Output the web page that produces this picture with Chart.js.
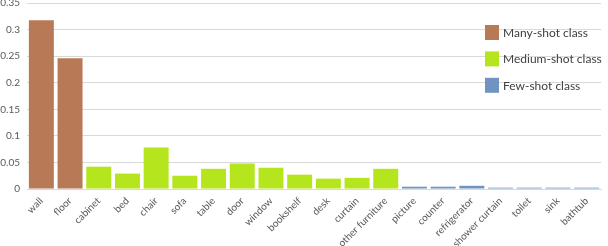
<!DOCTYPE html>
<html>
<head>
<meta charset="utf-8">
<script src="https://cdn.jsdelivr.net/npm/chart.js@4/dist/chart.umd.min.js"></script>
<style>
  html, body { margin: 0; padding: 0; background: #fff; }
  #wrap { position: relative; width: 608px; height: 246px; }
</style>
</head>
<body>
<div id="wrap"><canvas id="classChart"></canvas></div>
<script>
const categories = ["wall", "floor", "cabinet", "bed", "chair", "sofa", "table", "door", "window", "bookshelf",
    "desk", "curtain", "other furniture", "picture", "counter", "refrigerator", "shower curtain", "toilet", "sink", "bathtub"];

const manyShot = [0.3175, 0.246, null, null, null, null, null, null, null, null,
    null, null, null, null, null, null, null, null, null, null];
const mediumShot = [null, null, 0.042, 0.029, 0.078, 0.025, 0.038, 0.048, 0.040, 0.027,
    0.0195, 0.021, 0.038, null, null, null, null, null, null, null];
const fewShot = [null, null, null, null, null, null, null, null, null, null,
    null, null, null, 0.0043, 0.0043, 0.006, 0.0025, 0.0025, 0.0025, 0.0025];

const yTicks = [0, 0.05, 0.1, 0.15, 0.2, 0.25, 0.3, 0.35];

const seriesLabels = ["Many-shot class", "Medium-shot class", "Few-shot class"];
const seriesColors = ["#B87A56", "#B5E61D", "#6F94C2"];

// legend drawn over the plot, like the original
const overlayLegend = {
    id: "overlayLegend",
    afterDraw(chart) {
        const c = chart.ctx;
        c.save();
        c.font = "12px Lato";
        c.textBaseline = "middle";
        c.textAlign = "left";
        chart.data.datasets.forEach((ds, i) => {
            const y = 25 + i * 26.4;
            c.fillStyle = ds.backgroundColor;
            c.fillRect(485, y, 14, 15);
            c.fillStyle = "#404040";
            c.fillText(ds.label, 503, y + 8);
        });
        c.restore();
    }
};

const ctx = document.getElementById("classChart").getContext("2d");
new Chart(ctx, {
    type: "bar",
    data: {
        labels: categories,
        datasets: [manyShot, mediumShot, fewShot].map((d, i) => ({
            label: seriesLabels[i],
            data: d,
            backgroundColor: seriesColors[i],
            borderWidth: 0,
            grouped: false,
            categoryPercentage: 1,
            barPercentage: 0.87
        }))
    },
    options: {
        responsive: true,
        maintainAspectRatio: false,
        animation: false,
        layout: { padding: { top: 3, right: 7, left: 0, bottom: 0 } },
        plugins: {
            legend: { display: false },
            tooltip: { enabled: false }
        },
        scales: {
            x: {
                grid: { display: false, drawTicks: false },
                border: { color: "#d9d9d9", width: 1 },
                ticks: {
                    color: "#595959",
                    font: { family: "Lato", size: 10 },
                    minRotation: 45,
                    maxRotation: 45,
                    autoSkip: false,
                    padding: 6
                },
                afterFit(scale) {
                    scale.height = 57;
                    scale.paddingLeft = 0;
                    scale.paddingRight = 0;
                }
            },
            y: {
                min: 0,
                max: 0.35,
                afterBuildTicks(scale) {
                    scale.ticks = yTicks.map(v => ({ value: v }));
                },
                grid: { color: "#d9d9d9", lineWidth: 1, drawTicks: false },
                border: { display: false },
                ticks: {
                    color: "#595959",
                    font: { family: "Lato", size: 10 },
                    padding: 7,
                    callback: v => String(v)
                },
                afterFit(scale) {
                    scale.width = 27;
                    scale.paddingTop = 0;
                    scale.paddingBottom = 0;
                }
            }
        }
    },
    plugins: [overlayLegend]
});
</script>
</body>
</html>
